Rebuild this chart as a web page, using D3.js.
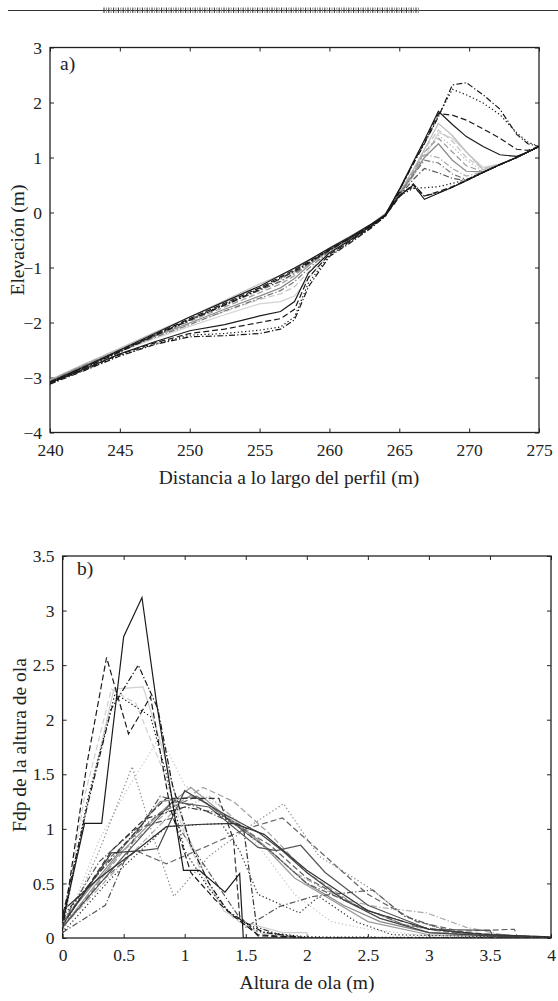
<!DOCTYPE html>
<html>
<head>
<meta charset="utf-8">
<script src="https://cdn.jsdelivr.net/npm/d3@7"></script>
<style>
  body { margin: 0; background: #fff; }
  svg { display: block; }
  .title { font-family: "Liberation Serif", serif; font-size: 19.5px; fill: #222; }
</style>
</head>
<body>
<svg id="canvas" width="558" height="1001"></svg>
<script>
// ---------------------------------------------------------------- data, panel a
var profileX = [240, 242.5, 245, 247.5, 250, 252.5, 255, 256.5, 257.5, 258.5, 260, 261.5, 263, 264, 265, 266, 266.8, 267.8, 268.8, 269.8, 271, 272.2, 273.4, 274.2, 275];

var accSolid   = [-3.08, -2.8, -2.5, -2.2, -1.9, -1.62, -1.34, -1.14, -1.01, -0.87, -0.65, -0.44, -0.21, -0.04, 0.42, 0.92, 1.32, 1.84, 1.6, 1.38, 1.2, 1.05, 1.02, 1.1, 1.2];
var accDashed  = [-3.09, -2.81, -2.52, -2.22, -1.93, -1.65, -1.37, -1.17, -1.04, -0.9, -0.67, -0.46, -0.23, -0.05, 0.4, 0.9, 1.28, 1.8, 1.77, 1.68, 1.52, 1.35, 1.15, 1.13, 1.2];
var accDotted  = [-3.09, -2.82, -2.53, -2.23, -1.95, -1.67, -1.39, -1.19, -1.06, -0.91, -0.68, -0.46, -0.22, -0.05, 0.41, 0.9, 1.26, 1.76, 2.24, 2.14, 1.99, 1.78, 1.45, 1.28, 1.2];
var accDashDot = [-3.1, -2.82, -2.54, -2.24, -1.96, -1.68, -1.4, -1.2, -1.07, -0.92, -0.69, -0.47, -0.23, -0.06, 0.4, 0.88, 1.25, 1.74, 2.32, 2.36, 2.14, 1.88, 1.42, 1.25, 1.2];

var eroSolid   = [-3.1, -2.84, -2.57, -2.35, -2.15, -2.04, -1.88, -1.8, -1.62, -1.1, -0.73, -0.5, -0.24, -0.05, 0.3, 0.5, 0.24, 0.35, 0.46, 0.58, 0.73, 0.87, 1.0, 1.1, 1.2];
var eroDashed  = [-3.1, -2.85, -2.58, -2.37, -2.2, -2.12, -2.0, -1.93, -1.76, -1.18, -0.76, -0.52, -0.26, -0.06, 0.28, 0.52, 0.3, 0.38, 0.47, 0.59, 0.73, 0.87, 1.0, 1.1, 1.2];
var eroDotted  = [-3.11, -2.86, -2.6, -2.39, -2.23, -2.2, -2.14, -2.08, -1.9, -1.28, -0.78, -0.53, -0.27, -0.06, 0.3, 0.44, 0.45, 0.47, 0.53, 0.6, 0.73, 0.87, 1.0, 1.1, 1.2];
var eroDashDot = [-3.12, -2.87, -2.61, -2.4, -2.26, -2.24, -2.2, -2.12, -1.95, -1.35, -0.8, -0.55, -0.28, -0.07, 0.36, 0.46, 0.3, 0.36, 0.46, 0.58, 0.73, 0.87, 1.0, 1.1, 1.2];

var midA = [-3.04, -2.75, -2.47, -2.18, -1.9, -1.6, -1.3, -1.14, -1.02, -0.88, -0.64, -0.43, -0.21, -0.02, 0.36, 0.78, 1.15, 1.62, 1.4, 1.1, 0.78, 0.88, 1.0, 1.1, 1.2];
var midB = [-3.06, -2.77, -2.5, -2.23, -1.98, -1.72, -1.46, -1.3, -1.15, -0.94, -0.66, -0.45, -0.22, -0.03, 0.34, 0.75, 1.1, 1.35, 1.1, 0.85, 0.74, 0.87, 1.0, 1.1, 1.2];
var midC = [-3.06, -2.78, -2.51, -2.25, -2.01, -1.76, -1.52, -1.37, -1.2, -0.97, -0.68, -0.46, -0.23, -0.04, 0.32, 0.7, 1.0, 1.25, 0.95, 0.75, 0.74, 0.87, 1.0, 1.1, 1.2];
var midD = [-3.05, -2.76, -2.49, -2.21, -1.95, -1.68, -1.42, -1.26, -1.12, -0.95, -0.67, -0.45, -0.22, -0.03, 0.33, 0.72, 1.05, 1.0, 0.8, 0.66, 0.74, 0.87, 1.0, 1.1, 1.2];
var midE = [-3.05, -2.77, -2.51, -2.26, -2.03, -1.8, -1.58, -1.48, -1.35, -1.08, -0.7, -0.47, -0.23, -0.04, 0.32, 0.7, 1.15, 1.5, 1.3, 1.0, 0.8, 0.88, 1.0, 1.1, 1.2];
var midF = [-3.05, -2.78, -2.53, -2.29, -2.07, -1.86, -1.66, -1.62, -1.52, -1.2, -0.75, -0.5, -0.25, -0.05, 0.3, 0.65, 1.0, 1.45, 1.35, 1.1, 0.82, 0.88, 1.0, 1.1, 1.2];
var midG = [-3.07, -2.79, -2.52, -2.27, -2.04, -1.79, -1.56, -1.42, -1.26, -1.02, -0.7, -0.47, -0.23, -0.04, 0.33, 0.68, 0.95, 0.9, 0.7, 0.6, 0.73, 0.87, 1.0, 1.1, 1.2];
var midH = [-3.08, -2.8, -2.52, -2.23, -1.96, -1.69, -1.41, -1.25, -1.1, -0.93, -0.67, -0.46, -0.23, -0.04, 0.3, 0.6, 0.8, 0.72, 0.62, 0.58, 0.73, 0.87, 1.0, 1.1, 1.2];
var midI = [-3.05, -2.77, -2.5, -2.22, -1.94, -1.65, -1.37, -1.22, -1.08, -0.92, -0.66, -0.45, -0.22, -0.03, 0.34, 0.74, 1.1, 1.4, 1.2, 0.95, 0.76, 0.88, 1.0, 1.1, 1.2];

// ---------------------------------------------------------------- data, panel b  [altura, fdp]
var pdfS1 = [[0,0.15],[0.18,1.05],[0.32,1.05],[0.5,2.76],[0.65,3.12],[0.77,2.15],[0.99,0.62],[1.12,0.62],[1.33,0.42],[1.45,0.59],[1.48,0],[4,0]];
var pdfS2 = [[0,0.08],[0.2,1.6],[0.36,2.57],[0.54,1.87],[0.72,2.21],[0.88,1.2],[1.05,0.6],[1.25,0.35],[1.4,0.2],[1.6,0.03],[2,0],[4,0]];
var pdfS3 = [[0,0.2],[0.2,1.2],[0.4,2.1],[0.62,2.5],[0.78,2.1],[0.9,1.4],[1.05,0.85],[1.2,0.5],[1.35,0.25],[1.5,0.14],[1.65,0.05],[2,0],[4,0]];
var pdfS4 = [[0,0.1],[0.2,1.25],[0.43,2.24],[0.72,2.03],[0.85,1.5],[1.0,0.8],[1.2,0.45],[1.38,0.22],[1.6,0.06],[2,0.01],[4,0]];
var pdfS5 = [[0,0.1],[0.2,1.2],[0.42,2.28],[0.66,2.3],[0.8,1.8],[1.0,1.0],[1.2,0.5],[1.32,0.25],[1.5,0.14],[1.8,0.05],[2.0,0.05],[2.02,0],[4,0]];
var pdfS6 = [[0,0.1],[0.18,1.3],[0.4,2.28],[0.6,2.15],[0.8,1.6],[1.0,0.95],[1.2,0.45],[1.4,0.18],[1.6,0.05],[1.9,0],[4,0]];
var pdfS7 = [[0,0.05],[0.3,0.9],[0.55,1.4],[0.8,1.85],[1.0,1.4],[1.3,1.2],[1.6,0.85],[1.9,0.4],[2.2,0.15],[2.5,0.08],[3,0.02],[4,0]];
var pdfS8 = [[0,0.05],[0.3,0.8],[0.57,1.57],[0.75,0.9],[0.91,0.38],[1.2,0.75],[1.5,1.0],[1.81,1.23],[2.1,0.75],[2.54,0.44],[2.8,0.2],[3.1,0.08],[3.5,0.02],[4,0]];

var pdfB1  = [[0,0.12],[0.4,0.78],[0.65,0.8],[0.78,0.82],[1.0,1.35],[1.3,1.15],[1.6,0.97],[1.8,0.8],[2.0,0.6],[2.3,0.35],[2.6,0.18],[3.0,0.05],[3.5,0.02],[4,0]];
var pdfB2  = [[0,0.25],[0.3,0.55],[0.6,0.8],[0.85,1.02],[1.1,1.04],[1.4,1.05],[1.65,0.95],[2.0,0.62],[2.5,0.25],[3.0,0.08],[3.5,0.03],[4,0.01]];
var pdfB3  = [[0,0.1],[0.5,0.75],[0.9,1.25],[1.2,1.2],[1.6,0.83],[1.75,0.8],[1.95,0.85],[2.15,0.6],[2.5,0.3],[3.0,0.08],[3.5,0.07],[3.52,0.03],[4,0]];
var pdfB4  = [[0,0.15],[0.4,0.7],[0.8,1.25],[1.1,1.3],[1.4,1.05],[1.7,0.8],[2.0,0.5],[2.3,0.3],[2.6,0.15],[3.0,0.05],[4,0]];
var pdfB5  = [[0,0.1],[0.45,0.75],[0.85,1.2],[1.05,1.38],[1.3,1.15],[1.6,0.9],[1.9,0.55],[2.2,0.35],[2.5,0.15],[3,0.03],[4,0]];
var pdfB6  = [[0,0.15],[0.4,0.75],[0.8,1.15],[1.1,1.3],[1.4,1.05],[1.7,0.85],[2.0,0.55],[2.4,0.3],[2.8,0.12],[3.2,0.06],[3.7,0.08],[3.72,0.02],[4,0.01]];
var pdfB7  = [[0,0.1],[0.5,0.8],[0.9,1.2],[1.15,1.38],[1.4,1.25],[1.7,0.95],[2.0,0.6],[2.4,0.3],[2.8,0.12],[3.2,0.04],[4,0]];
var pdfB8  = [[0,0.05],[0.35,0.3],[0.6,0.95],[0.8,1.3],[1.1,1.2],[1.4,1.05],[1.7,0.8],[2.0,0.5],[2.5,0.25],[3.0,0.08],[3.5,0.02],[4,0]];
var pdfB9  = [[0,0.1],[0.5,0.7],[0.9,1.15],[1.2,1.3],[1.5,1.0],[1.9,0.6],[2.3,0.35],[2.6,0.28],[2.98,0.23],[3.3,0.1],[3.6,0.03],[4,0]];
var pdfB10 = [[0,0.12],[0.4,0.8],[0.85,1.28],[1.28,1.28],[1.4,0.9],[1.45,0.2],[1.6,0.02],[2,0],[4,0]];
var pdfB11 = [[0,0.2],[0.3,0.6],[0.7,1.1],[1.0,1.2],[1.25,1.15],[1.48,1.02],[1.59,0.1],[1.8,0.02],[2.0,0],[4,0]];
var pdfB12 = [[0,0.05],[0.4,0.55],[0.85,1.02],[1.3,1.05],[1.45,0.8],[1.6,0.4],[1.94,0.23],[2.1,0.38],[2.4,0.15],[2.7,0.03],[4,0]];
var pdfB13 = [[0,0.1],[0.3,0.5],[0.6,0.8],[0.85,0.68],[1.2,0.85],[1.5,1.0],[1.8,1.1],[2.1,0.8],[2.5,0.4],[2.9,0.15],[3.3,0.05],[4,0]];
var pdfB14 = [[0,0.15],[0.3,0.7],[0.6,1.0],[0.9,1.1],[1.2,0.6],[1.5,0.1],[1.78,0.29],[2.05,0.38],[2.54,0.44],[2.8,0.2],[3.2,0.05],[4,0]];

var xTicksA = [240, 245, 250, 255, 260, 265, 270, 275];
var yTicksA = [-4, -3, -2, -1, 0, 1, 2, 3];
var xTicksB = [0, 0.5, 1, 1.5, 2, 2.5, 3, 3.5, 4];
var yTicksB = [0, 0.5, 1, 1.5, 2, 2.5, 3, 3.5];

// ---------------------------------------------------------------- styles
var dash = { solid: null, dashed: '6,3', dotted: '1.3,2.4', dashdot: '6,2.2,1.3,2.2' };

var profiles = [
  { y: midF, c: '#d2d2d2', d: 'solid' },   { y: midE, c: '#c4c4c4', d: 'dashed' },
  { y: midA, c: '#bdbdbd', d: 'solid' },   { y: midI, c: '#b5b5b5', d: 'dotted' },
  { y: midD, c: '#a8a8a8', d: 'dashdot' }, { y: midB, c: '#9a9a9a', d: 'dashed' },
  { y: midC, c: '#8a8a8a', d: 'solid' },   { y: midG, c: '#767676', d: 'dashdot' },
  { y: midH, c: '#555', d: 'dashdot' },
  { y: eroDashDot, c: '#1a1a1a', d: 'dashdot' }, { y: eroDotted, c: '#1a1a1a', d: 'dotted' },
  { y: eroDashed, c: '#1a1a1a', d: 'dashed' },   { y: eroSolid, c: '#1a1a1a', d: 'solid' },
  { y: accDashDot, c: '#1a1a1a', d: 'dashdot' }, { y: accDotted, c: '#1a1a1a', d: 'dotted' },
  { y: accDashed, c: '#1a1a1a', d: 'dashed' },   { y: accSolid, c: '#1a1a1a', d: 'solid' }
];

var pdfs = [
  { p: pdfS7, c: '#c8c8c8', d: 'dotted' },  { p: pdfB7, c: '#a0a0a0', d: 'dashed' },
  { p: pdfB9, c: '#aaaaaa', d: 'dashdot' }, { p: pdfB5, c: '#9a9a9a', d: 'solid' },
  { p: pdfS8, c: '#8a8a8a', d: 'dotted' },  { p: pdfB4, c: '#888', d: 'solid' },
  { p: pdfB13, c: '#666', d: 'dashed' },    { p: pdfB14, c: '#555', d: 'dashdot' },
  { p: pdfB6, c: '#666', d: 'dashed' },     { p: pdfB8, c: '#555', d: 'dashdot' },
  { p: pdfB3, c: '#555', d: 'solid' },      { p: pdfB1, c: '#444', d: 'solid' },
  { p: pdfB2, c: '#333', d: 'solid' },      { p: pdfB12, c: '#333', d: 'dotted' },
  { p: pdfB10, c: '#333', d: 'dashed' },    { p: pdfB11, c: '#333', d: 'dashdot' },
  { p: pdfS5, c: '#cfcfcf', d: 'solid' },   { p: pdfS6, c: '#cfcfcf', d: 'dashed' },
  { p: pdfS4, c: '#1a1a1a', d: 'dotted' },  { p: pdfS3, c: '#1a1a1a', d: 'dashdot' },
  { p: pdfS2, c: '#1a1a1a', d: 'dashed' },  { p: pdfS1, c: '#1a1a1a', d: 'solid' }
];

var svg = d3.select('#canvas');

// ---------------------------------------------------------------- header rule
svg.append('line').attr('x1', 8).attr('x2', 558).attr('y1', 10.5).attr('y2', 10.5).style('stroke', '#333').style('stroke-width', 1);
svg.append('g').selectAll('line').data(d3.range(104, 419, 2.4)).enter().append('line')
  .attr('x1', d => d).attr('x2', d => d).attr('y1', 7.5).attr('y2', 13)
  .style('stroke', (d, i) => i % 2 ? '#888' : '#333').style('stroke-width', 1);

// ---------------------------------------------------------------- panel builder
function styleAxis(g){
  g.select('.domain').remove();
  g.selectAll('.tick line').style('stroke', '#222');
  g.selectAll('.tick text').style('font-family', '"Liberation Serif", serif').style('font-size', '17.5px').style('fill', '#222');
}

function makePanel(box, xDom, yDom, xt, yt, clipId){
  var x = d3.scaleLinear().domain(xDom).range([box.l, box.r]);
  var y = d3.scaleLinear().domain(yDom).range([box.b, box.t]);

  svg.append('clipPath').attr('id', clipId).append('rect')
    .attr('x', box.l).attr('y', box.t).attr('width', box.r - box.l).attr('height', box.b - box.t);

  svg.append('g').attr('transform', 'translate(0,' + box.b + ')')
    .call(d3.axisBottom(x).tickValues(xt).tickSize(-4).tickPadding(11).tickFormat(d3.format(''))).call(styleAxis);
  svg.append('g').attr('transform', 'translate(0,' + box.t + ')')
    .call(d3.axisTop(x).tickValues(xt).tickSize(-4).tickFormat('')).call(styleAxis);
  svg.append('g').attr('transform', 'translate(' + box.l + ',0)')
    .call(d3.axisLeft(y).tickValues(yt).tickSize(-4).tickPadding(8).tickFormat(d3.format(''))).call(styleAxis);
  svg.append('g').attr('transform', 'translate(' + box.r + ',0)')
    .call(d3.axisRight(y).tickValues(yt).tickSize(-4).tickFormat('')).call(styleAxis);

  svg.append('rect').attr('x', box.l).attr('y', box.t).attr('width', box.r - box.l).attr('height', box.b - box.t)
    .style('fill', 'none').style('stroke', '#222').style('stroke-width', 1.3);
  return { x: x, y: y };
}

// ---------------------------------------------------------------- panel a
var boxA = { l: 50, r: 539, t: 47.5, b: 432.5 };
var pa = makePanel(boxA, [240, 275], [-4, 3], xTicksA, yTicksA, 'clipA');
var lineA = d3.line().x((d, i) => pa.x(profileX[i])).y(d => pa.y(d));
svg.append('g').attr('clip-path', 'url(#clipA)').selectAll('path').data(profiles).enter().append('path')
  .attr('d', d => lineA(d.y))
  .style('fill', 'none').style('stroke', d => d.c).style('stroke-width', 1.2)
  .style('stroke-dasharray', d => dash[d.d]);

svg.append('text').attr('class', 'title').attr('x', 60).attr('y', 70).text('a)');
svg.append('text').attr('class', 'title').attr('x', 289).attr('y', 484).attr('text-anchor', 'middle')
  .text('Distancia a lo largo del perfil (m)');
svg.append('text').attr('class', 'title').attr('text-anchor', 'middle')
  .attr('transform', 'translate(24,240) rotate(-90)').text('Elevación (m)');

// ---------------------------------------------------------------- panel b
var boxB = { l: 62.6, r: 551, t: 556, b: 938 };
var pb = makePanel(boxB, [0, 4], [0, 3.5], xTicksB, yTicksB, 'clipB');
var lineB = d3.line().x(d => pb.x(d[0])).y(d => pb.y(d[1]));
svg.append('g').attr('clip-path', 'url(#clipB)').selectAll('path').data(pdfs).enter().append('path')
  .attr('d', d => lineB(d.p))
  .style('fill', 'none').style('stroke', d => d.c).style('stroke-width', 1.2)
  .style('stroke-dasharray', d => dash[d.d]);

svg.append('text').attr('class', 'title').attr('x', 77).attr('y', 575).text('b)');
svg.append('text').attr('class', 'title').attr('x', 307).attr('y', 989).attr('text-anchor', 'middle')
  .text('Altura de ola (m)');
svg.append('text').attr('class', 'title').attr('text-anchor', 'middle')
  .attr('transform', 'translate(26,745) rotate(-90)').text('Fdp de la altura de ola');
</script>
</body>
</html>
